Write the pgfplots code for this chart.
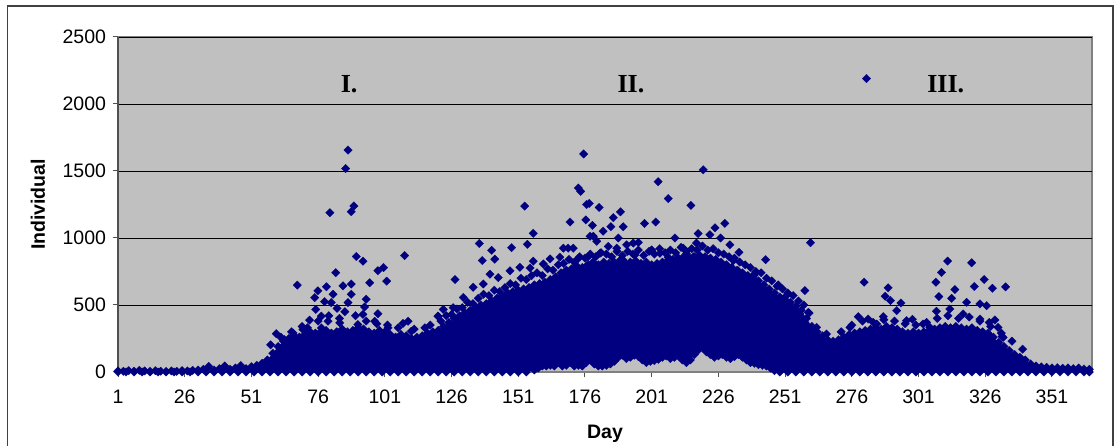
\documentclass[border=0pt]{standalone}
\usepackage{fontspec}
\setmainfont{Liberation Sans}
\newfontfamily\timesb{Liberation Serif}
\usepackage{pgfplots}
\pgfplotsset{compat=1.18}
\usepgfplotslibrary{fillbetween}
\usepackage{pgfplotstable}
\definecolor{navy}{RGB}{0,0,128}
\definecolor{plotgray}{RGB}{192,192,192}
\definecolor{bordergray}{RGB}{128,128,128}
\definecolor{axisgray}{RGB}{80,80,80}
\definecolor{framegray}{RGB}{64,64,64}

% upper edge of the dense cloud (marker centres)
\pgfplotstableread{
x y
1 8
3 5
5 10
7 6
9 12
11 8
13 5
15 10
17 6
19 4
21 8
23 5
25 10
27 8
29 12
31 15
33 20
35 42
37 15
39 25
41 45
43 20
45 30
47 48
49 25
51 40
53 50
55 65
57 90
59 140
61 190
63 230
65 250
67 270
69 260
71 280
73 300
75 290
77 300
79 310
81 290
83 300
85 320
87 300
89 310
91 330
93 320
95 300
97 290
99 310
101 300
103 280
105 260
107 280
109 270
111 250
113 260
115 270
117 290
119 300
121 310
123 340
125 370
127 400
129 420
131 440
133 460
135 480
137 500
139 510
141 530
143 550
145 570
147 590
149 600
151 610
153 620
155 630
157 650
159 660
161 670
163 690
165 710
167 740
169 760
171 770
173 790
175 780
177 800
179 820
181 800
183 820
185 810
187 820
189 830
191 810
193 820
195 830
197 810
199 820
201 800
203 810
205 820
207 830
209 840
211 850
213 860
215 850
217 860
219 870
221 860
223 850
225 840
227 820
229 800
231 780
233 760
235 740
237 720
239 700
241 680
243 650
245 620
247 590
249 560
251 540
253 520
255 490
257 460
259 400
261 340
263 300
265 270
267 240
269 230
271 240
273 260
275 280
277 290
279 300
281 310
283 320
285 330
287 320
289 340
291 330
293 320
295 300
297 290
299 300
301 290
303 300
305 310
307 320
309 330
311 340
313 330
315 340
317 330
319 320
321 330
323 310
325 300
327 290
329 260
331 220
333 190
335 160
337 130
339 110
341 90
343 60
345 45
347 38
349 35
351 30
353 32
355 28
357 30
359 25
361 30
363 22
365 20
}\edgedata

% lower edge of the dense cloud (marker centres)
\pgfplotstableread{
x y
1 0
4 0
7 0
10 0
13 0
16 0
19 0
22 0
25 0
28 0
31 0
34 0
37 0
40 0
43 0
46 0
49 0
52 0
55 0
58 0
61 0
64 0
67 0
70 0
73 0
76 0
79 0
82 0
85 0
88 0
91 0
94 0
97 0
100 0
103 0
106 0
109 0
112 0
115 0
118 0
121 0
124 0
127 0
130 0
133 0
136 0
139 0
142 0
145 0
148 0
151 0
154 0
157 15
158.5 30
160 45
161.5 45
163 50
164.5 45
166 70
167.5 45
169 50
170.5 70
172 45
173.5 50
175 45
176.5 70
178 90
179.5 60
181 45
182.5 45
184 50
185.5 60
187 80
188.5 110
190 125
191.5 100
193 110
194.5 125
196 115
197.5 90
199 70
200.5 80
202 85
203.5 95
205 110
206.5 120
208 100
209.5 110
211 120
212.5 90
214 70
215.5 90
217 130
218.5 165
220 180
221.5 150
223 130
224.5 110
226 120
227.5 130
229 110
230.5 100
232 115
233.5 130
235 110
236.5 90
238 70
239.5 65
241 55
242.5 50
244 45
245.5 30
247 10
249 0
252 0
255 0
258 0
261 0
264 0
267 0
270 0
273 0
276 0
279 0
282 0
285 0
288 0
291 0
294 0
297 0
300 0
303 0
306 0
309 0
312 0
315 0
318 0
321 0
324 0
327 0
330 0
333 0
336 0
339 0
342 0
345 0
348 0
351 0
354 0
357 0
360 0
363 0
365 0
}\lowdata

% scattered points above the dense cloud
\pgfplotstableread{
x y
87.2 1656
86.3 1518
80.4 1189
88.4 1196
89.4 1239
90.3 862
92.8 827
108.4 869
82.6 741
68.2 648
98.4 756
100.5 779
95.3 666
101.7 678
88.4 656
85.3 643
88.4 580
81.6 580
79.1 636
75.9 606
74.7 555
78.4 525
80.9 518
83.1 475
87.2 518
94.0 543
93.4 485
92.8 430
75.1 467
72.8 387
77.2 417
79.7 379
60.3 286
58.2 203
63.4 241
66.6 291
107.8 362
109.7 379
120.9 417
98.4 435
84.1 367
97.2 379
90.9 354
102.2 329
110.9 304
70.3 317
77.2 329
62 260
66 300
70 340
72 330
76 380
80 420
84 400
86 450
90 420
94 380
98 360
102 350
106 330
112 320
116 330
118 350
167.9 924
169.7 924
171.6 924
173.5 848
177.2 860
177.9 1013
180.4 975
182.8 1051
181.6 886
184.7 937
188.5 1000
187.9 924
191.6 949
194.1 962
196.0 967
194.7 873
190.3 835
201.0 911
204.1 886
207.2 855
209.7 1000
212.8 924
214.1 881
217.8 962
218.4 1033
216.6 860
222.8 1025
221.6 848
224.7 1076
226.8 1000
228.4 1109
230.3 949
233.7 893
231.6 832
233.4 755
239.7 735
237.8 654
156.6 1035
156.6 827
155.4 776
148.5 928
154.4 953
136.4 959
141.0 908
137.5 832
142.2 842
140.4 730
143.5 705
147.9 755
151.6 781
160.4 806
162.9 844
166.6 857
127.3 690
126.6 480
122.9 467
121.0 416
130.4 556
134.1 632
137.9 657
175.5 1627
173.5 1373
174.4 1348
203.4 1420
220.3 1509
207.2 1294
215.7 1243
153.4 1238
176.6 1250
177.6 1258
181.3 1228
189.3 1195
186.6 1152
170.4 1119
176.3 1135
178.8 1094
198.3 1109
202.5 1119
185.7 1084
190.3 1084
179.1 1013
122 380
124 420
126 430
128 470
130 480
132 520
134 510
136 550
138 580
140 570
142 610
144 600
146 630
148 660
150 650
152 700
154 690
156 720
158 740
160 720
162 770
164 760
166 800
168 810
170 840
172 820
174 860
176 850
178 880
180 860
182 890
184 880
186 860
188 900
190 870
192 900
194 880
196 910
198 870
200 900
202 880
204 920
206 890
208 910
210 890
212 930
214 900
216 920
218 910
220 940
222 910
224 920
226 890
228 880
230 860
232 850
234 820
236 800
238 780
240 750
242 740
244 700
246 680
248 640
250 620
252 590
254 570
256 530
258 500
260 440
281.5 2190
260.5 965
243.7 838
311.9 828
320.9 815
309.6 743
307.5 670
308.6 563
313.4 550
314.6 615
325.6 690
328.7 625
333.6 635
321.9 638
280.6 670
289.6 628
288.5 565
290.5 533
294.4 515
292.8 458
258.4 608
248.4 650
251.5 570
319.0 520
324.0 508
326.5 495
307.7 453
312.7 470
317.7 433
329.6 388
327.5 370
332.3 265
327.7 270
278.4 413
282.1 395
287.8 413
298.7 393
302.7 358
239.3 720
241.5 633
245.3 583
250.3 495
254.0 470
256.5 433
259.7 445
262.8 333
266.5 283
275.3 333
285.3 358
296.5 383
305.2 333
324.0 395
330.8 333
332.7 258
272 300
276 350
280 380
284 370
288 390
292 380
296 360
300 350
304 370
308 400
312 420
316 400
320 410
324 380
328 340
332 290
336 230
340 170
}\scatterdata

\begin{document}
\begin{tikzpicture}
\begin{axis}[
  at={(118pt,74pt)}, anchor=south west,
  scale only axis, width=974pt, height=335pt,
  xmin=1, xmax=366, ymin=0, ymax=2500,
  xtick={1,26,...,351}, ytick={0,500,...,2500},
  ymajorgrids, grid style={black, line width=0.8pt},
  axis background/.style={fill=plotgray, draw=bordergray, line width=1.2pt},
  axis x line*=bottom, axis y line*=left,
  x axis line style={-, draw=bordergray, line width=1.2pt},
  y axis line style={-, draw=axisgray, line width=2.2pt},
  tick align=outside, major tick length=5.5pt,
  tick style={axisgray, line width=1pt},
  /pgf/number format/assume math mode=true,
  /pgf/number format/1000 sep={},
  every tick label/.append style={font=\fontsize{19.5}{23}\selectfont},
  yticklabel style={xshift=-3pt},
  xticklabel style={yshift=-9pt},
  xlabel={\bfseries Day},
  ylabel={\bfseries Individual},
  every axis label/.append style={font=\fontsize{19.5}{23}\selectfont},
  xlabel style={at={(axis description cs:0.5,-0.185)}, anchor=center},
  ylabel style={at={(axis description cs:-0.0821,0.5)}, anchor=center},
  clip=false,
]
\addplot[draw=none, no marks, name path=up, forget plot] table {\edgedata};
\addplot[draw=none, no marks, name path=lo, forget plot] table {\lowdata};
\addplot[fill=navy, draw=none, forget plot] fill between[of=up and lo];
\addplot[only marks, mark=square*, mark size=3pt, mark options={rotate=45, fill=navy, draw=navy, line width=0.2pt}, forget plot] table {\edgedata};
\addplot[only marks, mark=square*, mark size=3pt, mark options={rotate=45, fill=navy, draw=navy, line width=0.2pt}, forget plot] table {\lowdata};
\addplot[only marks, mark=square*, mark size=3pt, mark options={rotate=45, fill=navy, draw=navy, line width=0.2pt}, forget plot] table {\scatterdata};
\node[font=\timesb\bfseries\fontsize{26}{30}\selectfont, anchor=base] at (axis cs:87.6,2086) {I.};
\node[font=\timesb\bfseries\fontsize{26}{30}\selectfont, anchor=base] at (axis cs:193.2,2086) {II.};
\node[font=\timesb\bfseries\fontsize{26}{30}\selectfont, anchor=base] at (axis cs:311.2,2086) {III.};
\end{axis}
\draw[line width=1.4pt, color=framegray] (7.5pt,-5pt) -- (7.5pt,440pt) -- (1113pt,440pt) -- (1113pt,-5pt);
\pgfresetboundingbox
\path[use as bounding box] (0pt,0pt) rectangle (1119pt,446pt);
\end{tikzpicture}
\end{document}
